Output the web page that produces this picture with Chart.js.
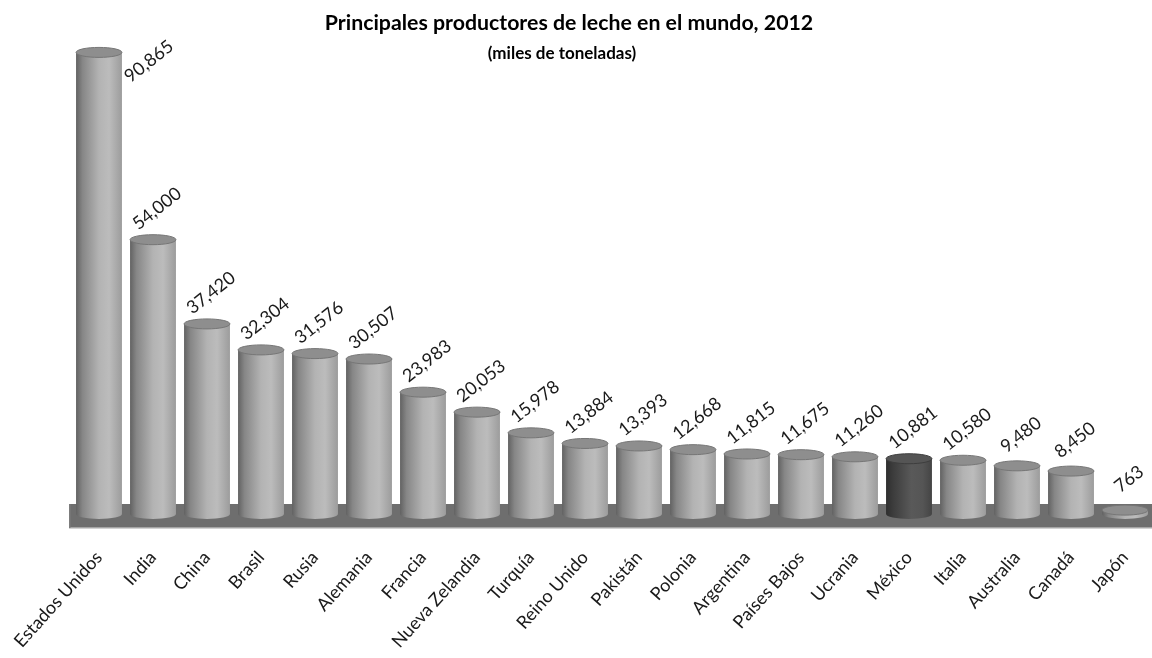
<!DOCTYPE html>
<html>
<head>
<meta charset="utf-8">
<script src="https://cdn.jsdelivr.net/npm/chart.js@4"></script>
<style>
  html, body { margin: 0; padding: 0; background: #fff; }
  #wrap { position: relative; width: 1152px; height: 658px; }
  #grafica { position: absolute; left: 0; top: 0; }
  .titulo { position: absolute; left: 0; text-align: center; color: #000; font-family: Lato, sans-serif; font-weight: bold; white-space: nowrap; }
  #titulo { top: 9px; width: 1138px; font-size: 21.3px; line-height: 26px; }
  #subtitulo { top: 43px; width: 1124px; font-size: 17px; line-height: 20px; }
</style>
</head>
<body>
<div id="wrap">
  <canvas id="grafica" width="1152" height="658"></canvas>
  <div class="titulo" id="titulo">Principales productores de leche en el mundo, 2012</div>
  <div class="titulo" id="subtitulo">(miles de toneladas)</div>
</div>
<script>
// datos (miles de toneladas)
const paises = ["Estados Unidos", "India", "China", "Brasil", "Rusia", "Alemania", "Francia",
  "Nueva Zelandia", "Turquía", "Reino Unido", "Pakistán", "Polonia", "Argentina",
  "Países Bajos", "Ucrania", "México", "Italia", "Australia", "Canadá", "Japón"];
const produccion = [90865, 54000, 37420, 32304, 31576, 30507, 23983, 20053, 15978, 13884,
  13393, 12668, 11815, 11675, 11260, 10881, 10580, 9480, 8450, 763];
const destacado = "México";

const ANCHO = 0.85; // fraccion de la categoria que ocupa el cilindro

// degradado horizontal del cuerpo del cilindro
function cuerpo(ctx, cx, w, oscuro) {
  const g = ctx.createLinearGradient(cx - w / 2, 0, cx + w / 2, 0);
  if (oscuro) {
    g.addColorStop(0, "#2e2e2e");
    g.addColorStop(0.15, "#3c3c3c");
    g.addColorStop(0.55, "#595959");
    g.addColorStop(0.8, "#555555");
    g.addColorStop(1, "#444444");
  } else {
    g.addColorStop(0, "#626262");
    g.addColorStop(0.14, "#868686");
    g.addColorStop(0.5, "#b3b3b3");
    g.addColorStop(0.72, "#bcbcbc");
    g.addColorStop(1, "#9c9c9c");
  }
  return g;
}

// piso gris, tapas de los cilindros y etiquetas de valor
const cilindros = {
  id: "cilindros",
  beforeDatasetsDraw(chart) {
    const ctx = chart.ctx;
    const base = chart.scales.y.getPixelForValue(0);
    const left = chart.chartArea.left - 3;
    ctx.save();
    ctx.fillStyle = "#6e6e6e";
    ctx.fillRect(left, base - 10, chart.width - left, 24);
    ctx.fillStyle = "#a5a5a5";
    ctx.fillRect(left, base + 13, chart.width - left, 1.5);
    ctx.fillStyle = "#7c7c7c";
    ctx.fillRect(left, base - 10, 1.5, 24);
    ctx.restore();
  },
  afterDatasetsDraw(chart) {
    const ctx = chart.ctx;
    const meta = chart.getDatasetMeta(0);
    meta.data.forEach((bar, i) => {
      const { x, y, base, width } = bar.getProps(["x", "y", "base", "width"], true);
      const oscuro = paises[i] === destacado;
      const rx = width / 2, ry = 5;
      ctx.save();
      // fondo redondeado
      ctx.beginPath();
      ctx.ellipse(x, base, rx, ry, 0, 0, Math.PI);
      ctx.closePath();
      ctx.fillStyle = cuerpo(ctx, x, width, oscuro);
      ctx.fill();
      // tapa
      ctx.beginPath();
      ctx.ellipse(x, y, rx, ry, 0, 0, 2 * Math.PI);
      ctx.fillStyle = oscuro ? "#555555" : "#8e8e8e";
      ctx.fill();
      ctx.strokeStyle = oscuro ? "#3e3e3e" : "#767676";
      ctx.lineWidth = 1;
      ctx.stroke();
      ctx.restore();

      // etiqueta
      const txt = produccion[i].toLocaleString("en-US");
      let cx = x + 4, cy = y - 31;
      if (cy - 20 < chart.chartArea.top + 40) {
        cx = x + width / 2 + 27;
        cy = y + 9;
      }
      ctx.save();
      ctx.font = "18px Lato";
      ctx.fillStyle = "#1a1a1a";
      ctx.textAlign = "center";
      ctx.textBaseline = "middle";
      ctx.translate(cx, cy);
      ctx.rotate(-38 * Math.PI / 180);
      ctx.fillText(txt, 0, 0);
      ctx.restore();
    });
  }
};

const canvas = document.querySelector("#grafica");

new Chart(canvas, {
  type: "bar",
  data: {
    labels: paises,
    datasets: [{
      data: produccion,
      borderWidth: 0,
      categoryPercentage: 1,
      barPercentage: ANCHO,
      backgroundColor: (c) => {
        const xs = c.chart.scales.x;
        if (!xs || c.dataIndex === undefined) return "#aaaaaa";
        const cx = xs.getPixelForValue(c.dataIndex);
        const w = xs.width / paises.length * ANCHO;
        if (!isFinite(cx) || !isFinite(w) || w <= 0) return "#aaaaaa";
        return cuerpo(c.chart.ctx, cx, w, paises[c.dataIndex] === destacado);
      }
    }]
  },
  options: {
    responsive: false,
    animation: false,
    layout: { padding: { top: 6, left: 72, right: 0, bottom: 0 } },
    plugins: {
      legend: { display: false },
      tooltip: { enabled: false }
    },
    scales: {
      x: {
        grid: { display: false },
        border: { display: false },
        ticks: {
          autoSkip: false,
          minRotation: 48,
          maxRotation: 48,
          padding: 25,
          color: "#1a1a1a",
          font: { family: "Lato", size: 18 }
        },
        afterFit: (s) => {
          s.height = 144;
          s.paddingLeft = 0;
          s.paddingRight = 0;
        }
      },
      y: {
        display: false,
        min: 0,
        max: 100000
      }
    }
  },
  plugins: [cilindros]
});
</script>
</body>
</html>
